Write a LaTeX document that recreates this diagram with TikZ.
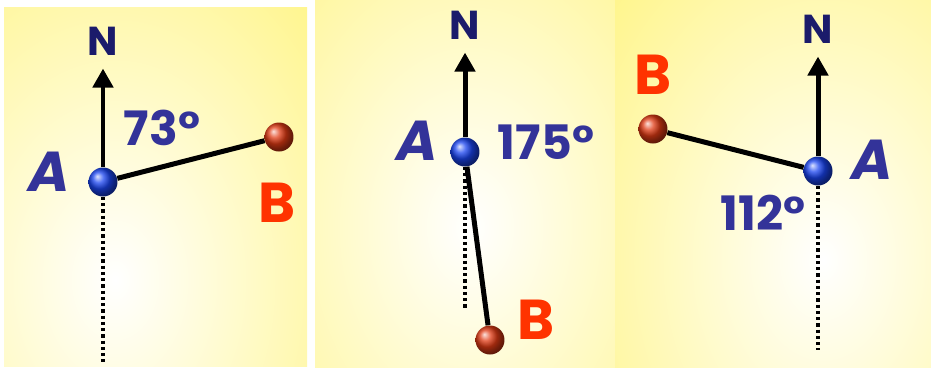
\documentclass[tikz,border=0pt]{standalone}
\usepackage{fontspec}
\setmainfont{Poppins}
\definecolor{yelc}{HTML}{FFF47E}
\definecolor{labc}{HTML}{333399}
\definecolor{northc}{HTML}{1B1B6B}
\definecolor{bc}{HTML}{FF3300}
\definecolor{ballac}{HTML}{1A44F0}
\definecolor{ballbc}{HTML}{E03A14}
\usetikzlibrary{arrows.meta}
\tikzset{
  >={Triangle[length=3.8mm,width=4mm]},
  pA/.style={circle,minimum size=5.8mm,inner sep=0pt,shading=ball,ball color=ballac},
  pB/.style={pA,ball color=ballbc},
  la/.style={font=\bfseries\itshape\fontsize{32}{32}\selectfont,text=labc,inner sep=0pt},
  lb/.style={font=\bfseries\fontsize{32}{32}\selectfont,text=bc,inner sep=0pt},
  ln/.style={font=\bfseries\fontsize{23}{23}\selectfont,text=northc,inner sep=0pt},
  deg/.style={font=\bfseries\fontsize{27}{27}\selectfont,text=labc,inner sep=0pt},
  seg/.style={line width=1mm,black},
  ptr/.style={->,line width=1mm,shorten >=2.6mm},
  downln/.style={line width=0.9mm,dash pattern=on 0.65mm off 0.6mm},
}
% yellow card with a pale centre
\newcommand{\panel}[6]{\begin{scope}
  \clip (#1,#2) rectangle (#3,#4);
  \fill[yelc] (#1,#2) rectangle (#3,#4);
  \shade[inner color=white,outer color=yelc] (#5,#6) ellipse (320 and 440);
\end{scope}}

\begin{document}
\begin{tikzpicture}[x=0.02cm,y=-0.02cm]
  \useasboundingbox[fill=white] (0,0) rectangle (931,370);
  \panel{4}{7}{307}{366}{115}{280}
  \panel{315}{0}{615}{367}{470}{227}
  \panel{615}{0}{931}{367}{823}{260}
  % 73 degrees
  \node[pA] (A1) at (103,182) {};
  \node[pB] (B1) at (279,137) {};
  \coordinate (S1) at (103,362);
  \node[ln] (N1) at (103,41) {N};
  \node[la] (lA1) at (49,172) {A};
  \node[lb] (lB1) at (277,203) {B};
  \node[deg] (d1) at (162,128) {73°};
  \draw[downln] (A1) -- (S1);
  \draw[ptr] (A1) -- (N1);
  \draw[seg] (A1) -- (B1);
  % 175 degrees
  \node[pA] (A2) at (465,152) {};
  \node[pB] (B2) at (490,340) {};
  \coordinate (S2) at (465,308);
  \node[ln] (N2) at (465,25) {N};
  \node[la] (lA2) at (417,141) {A};
  \node[lb] (lB2) at (536,320) {B};
  \node[deg] (d2) at (546,142) {175°};
  \draw[downln] (A2) -- (S2);
  \draw[ptr] (A2) -- (N2);
  \draw[seg] (A2) -- (B2);
  % 112 degrees
  \node[pA] (A3) at (818,171) {};
  \node[pB] (B3) at (653,129) {};
  \coordinate (S3) at (818,350);
  \node[ln] (N3) at (818,29) {N};
  \node[la] (lA3) at (872,160) {A};
  \node[lb] (lB3) at (653,75) {B};
  \node[deg] (d3) at (763,213) {112°};
  \draw[downln] (A3) -- (S3);
  \draw[ptr] (A3) -- (N3);
  \draw[seg] (A3) -- (B3);
\end{tikzpicture}
\end{document}
